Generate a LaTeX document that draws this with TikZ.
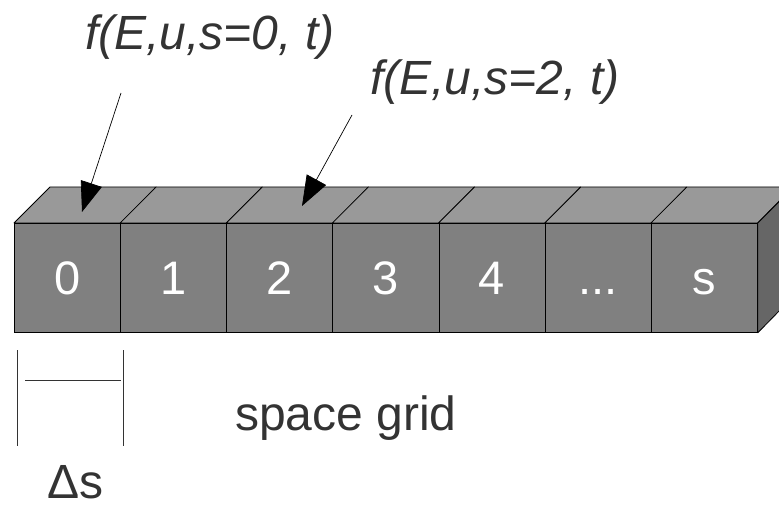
\documentclass[tikz,border=0pt]{standalone}
\usepackage{fontspec}
\setmainfont{Liberation Sans}
\usepackage{xcolor}
\usetikzlibrary{arrows.meta}
\definecolor{frontgray}{HTML}{808080}
\definecolor{topgray}{HTML}{999999}
\definecolor{sidegray}{HTML}{666666}
\definecolor{txtgray}{HTML}{333333}
\tikzset{
  cell/.style={draw, fill=frontgray, anchor=north west, inner sep=0pt,
               minimum width=106.14pt, minimum height=109pt, line width=0.8pt,
               text height=33pt, text depth=0pt,
               text=white, font=\fontsize{47}{47}\selectfont},
  topface/.style={draw, fill=topgray, line width=0.8pt, line join=round},
  sideface/.style={draw, fill=sidegray, line width=0.8pt, line join=round},
  lbl/.style={text=txtgray, inner sep=0pt, anchor=base west,
              font=\fontsize{48}{48}\selectfont},
  ptr/.style={-{Triangle[length=30pt,width=22pt]}, line width=0.7pt},
  tick/.style={draw=txtgray, line width=0.8pt}
}
\begin{document}
\begin{tikzpicture}[x=1pt,y=-1pt]
  \useasboundingbox (0,0) rectangle (779,505);
  % grid cells
  \foreach \t/\i in {0/0,1/1,2/2,3/3,4/4,{...}/5,s/6}
    \node[cell] (c\i) at (14+\i*106.14,223) {\t};
  \foreach \i in {0,...,6}
    \draw[topface] (c\i.north west) -- ++(36,-36) -- ++(106.14,0) -- (c\i.north east) -- cycle;
  \draw[sideface] (c6.north east) -- ++(36,-36) -- ++(0,109) -- (c6.south east) -- cycle;
  % labels
  \node[lbl, font=\fontsize{48}{48}\selectfont\itshape] (f0) at (85,50) {f(E,u,s=0, t)};
  \node[lbl, font=\fontsize{48}{48}\selectfont\itshape] (f2) at (370,95) {f(E,u,s=2, t)};
  \node[lbl] (grid) at (235,430) {space grid};
  \node[lbl] (ds) at (47,498) {Δs};
  % pointers
  \coordinate (p0) at (121,93);
  \coordinate (q0) at (82,212);
  \coordinate (p2) at (352,115);
  \coordinate (q2) at (302,206);
  \draw[ptr] (p0) -- (q0);
  \draw[ptr] (p2) -- (q2);
  % cell width
  \coordinate (w0) at (17,350);
  \coordinate (w1) at (123,350);
  \draw[tick] (w0) -- ++(0,96);
  \draw[tick] (w1) -- ++(0,96);
  \draw[tick] (25,380) -- (121,380);
\end{tikzpicture}
\end{document}
